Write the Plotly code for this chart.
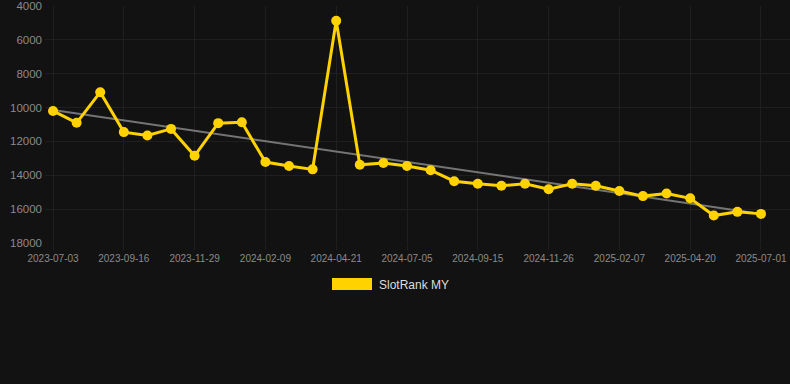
import numpy as np
import plotly.graph_objects as go

dates = [
    "2023-07-03", "2023-07-28", "2023-08-22", "2023-09-16", "2023-10-11", "2023-11-05",
    "2023-11-29", "2023-12-23", "2024-01-16", "2024-02-09", "2024-03-04", "2024-03-28",
    "2024-04-21", "2024-05-16", "2024-06-10", "2024-07-05", "2024-07-29", "2024-08-22",
    "2024-09-15", "2024-10-09", "2024-11-02", "2024-11-26", "2024-12-20", "2025-01-14",
    "2025-02-07", "2025-03-03", "2025-03-27", "2025-04-20", "2025-05-14", "2025-06-07",
    "2025-07-01",
]
ranks = [
    10200, 10900, 9090, 11450, 11650, 11260, 12850, 10920, 10870, 13220, 13450, 13650,
    4870, 13380, 13270, 13450, 13700, 14350, 14500, 14620, 14500, 14820, 14500, 14620,
    14930, 15230, 15080, 15360, 16380, 16160, 16280,
]
tick_labels = dates[::3]
y_ticks = [4000, 6000, 8000, 10000, 12000, 14000, 16000, 18000]
y_tick_text = [str(v) for v in y_ticks]
series_name = "SlotRank MY"

idx = np.arange(len(ranks))
slope, intercept = np.polyfit(idx, ranks, 1)
trend = slope * idx + intercept

BG = "#121212"
GRID = "#1f1f1f"
YELLOW = "#FFD200"

fig = go.Figure()
fig.add_trace(go.Scatter(
    x=dates, y=trend, mode="lines",
    line=dict(color="rgba(150,150,150,0.75)", width=2),
    hoverinfo="skip", showlegend=False,
))
fig.add_trace(go.Scatter(
    x=dates, y=ranks, mode="lines+markers", name=series_name,
    line=dict(color=YELLOW, width=3),
    marker=dict(color=YELLOW, size=10),
    showlegend=False,
))

# legend drawn manually (plot area: x 45..790, y 6..243 px)
def px_x(x):
    return (x - 45) / 745.0

def px_y(y):
    return (243 - y) / 237.0

fig.add_shape(type="rect", xref="paper", yref="paper",
              x0=px_x(332), x1=px_x(372), y0=px_y(290), y1=px_y(278),
              fillcolor=YELLOW, line=dict(width=0))
fig.add_annotation(xref="paper", yref="paper", x=px_x(377), y=px_y(284.5),
                   text=series_name, showarrow=False, xanchor="left", yanchor="middle",
                   font=dict(family="Liberation Sans, Arial, sans-serif", size=12, color="#dddddd"))

fig.update_layout(
    width=790, height=384,
    paper_bgcolor=BG, plot_bgcolor=BG,
    margin=dict(l=45, r=0, t=6, b=141),
    showlegend=False,
    font=dict(family="Liberation Sans, Arial, sans-serif", color="#8a8a8a"),
    xaxis=dict(
        type="category",
        range=[-0.34, 31.23],
        tickmode="array", tickvals=tick_labels, ticktext=tick_labels,
        showgrid=True, gridcolor=GRID, gridwidth=1,
        ticks="outside", ticklen=6, tickcolor=GRID,
        tickfont=dict(size=10, color="#8a8a8a"),
        zeroline=False, showline=False,
    ),
    yaxis=dict(
        range=[18000, 4000],
        tickmode="array", tickvals=y_ticks, ticktext=y_tick_text,
        showgrid=True, gridcolor=GRID, gridwidth=1,
        tickfont=dict(size=11.5, color="#8a8a8a"),
        ticks="", ticklabelstandoff=2,
        zeroline=False, showline=False,
    ),
)

fig.write_html(
    "out.html",
    config={"displayModeBar": False},
    post_script="document.body.style.margin='0';document.body.style.background='#121212';",
)
